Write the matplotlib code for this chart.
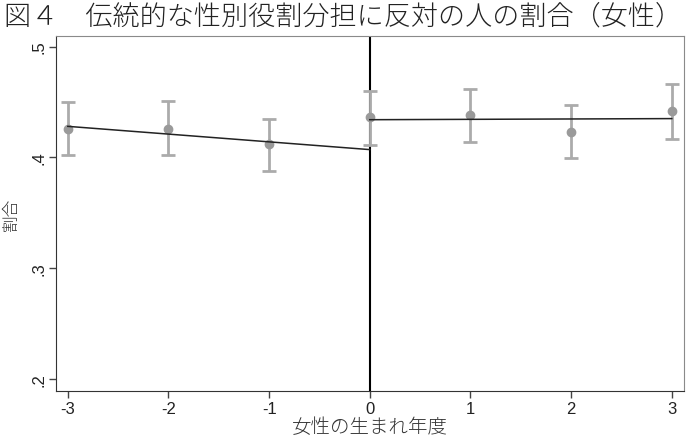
import matplotlib
matplotlib.use("Agg")
import matplotlib.pyplot as plt
import numpy as np

plt.rcParams['font.family'] = ['Noto Sans CJK JP', 'DejaVu Sans']

# data
cohort = [-3, -2, -1, 0, 1, 2, 3]
share = [0.426, 0.426, 0.412, 0.436, 0.438, 0.423, 0.442]
ci_low = [0.402, 0.402, 0.388, 0.411, 0.414, 0.399, 0.417]
ci_high = [0.450, 0.451, 0.435, 0.460, 0.462, 0.447, 0.466]

fit_left_x = [-3, 0]
fit_left_y = [0.428, 0.407]
fit_right_x = [0, 3]
fit_right_y = [0.434, 0.435]

yticks = [0.2, 0.3, 0.4, 0.5]
ytick_labels = [".2", ".3", ".4", ".5"]

fig = plt.figure(figsize=(6.88, 4.39), dpi=100)
ax = fig.add_axes([0.081, 0.107, 0.913, 0.809])

share = np.array(share)
err = [share - np.array(ci_low), np.array(ci_high) - share]
ax.errorbar(cohort, share, yerr=err, fmt='o', color='#9a9a9a', ecolor='#ababab',
            elinewidth=2, capsize=5, capthick=2, markersize=6, zorder=2)

ax.plot(fit_left_x, fit_left_y, color='#222222', linewidth=1.1, zorder=3)
ax.plot(fit_right_x, fit_right_y, color='#222222', linewidth=1.1, zorder=3)
ax.axvline(0, color='black', linewidth=1.5, zorder=1)

ax.set_xlim(-3.12, 3.12)
ax.set_ylim(0.189, 0.5097)
ax.set_xticks(cohort)
ax.set_xticklabels([str(c) for c in cohort], fontsize=12, color='#222222',
                   family=['Liberation Sans', 'DejaVu Sans'])
ax.set_yticks(yticks)
ax.set_yticklabels(ytick_labels, fontsize=12, color='#222222', rotation=90, va='center',
                   family=['Liberation Sans', 'DejaVu Sans'])
ax.tick_params(direction='out', length=5, width=1, colors='#444444', labelcolor='#222222', pad=2)

for s in ['left', 'bottom']:
    ax.spines[s].set_color('#333333')
for s in ['top', 'right']:
    ax.spines[s].set_color('#8a8a8a')

ax.set_xlabel('女性の生まれ年度', fontsize=14, color='#333333', labelpad=0, weight='light')
ax.set_ylabel('割合', fontsize=12, color='#333333', labelpad=8, weight='light')

fig.text(0.006, 0.962, '図４　伝統的な性別役割分担に反対の人の割合（女性）',
         fontsize=19.5, color='#222222', va='center', ha='left', weight='light')

fig.savefig('out.png', dpi=100)
